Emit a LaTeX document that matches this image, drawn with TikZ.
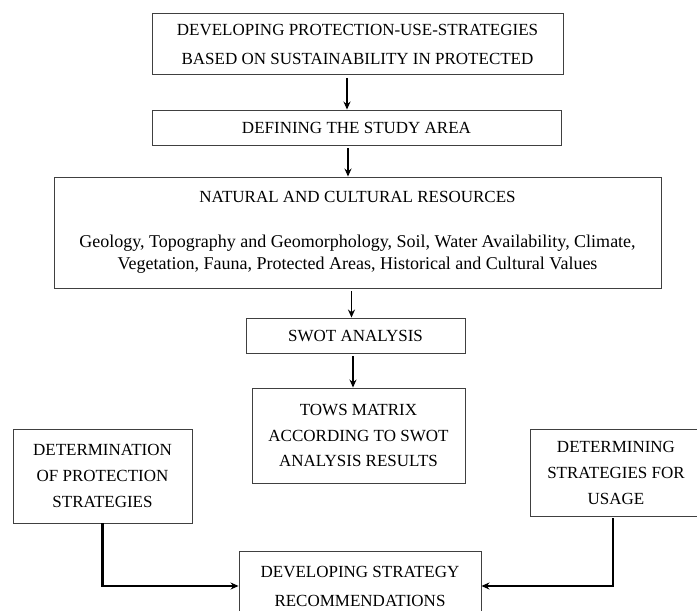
\documentclass[tikz,border=0pt]{standalone}
\usepackage{fontspec}
\setmainfont{Liberation Serif}
\usetikzlibrary{arrows.meta}

\tikzset{
  box/.style={draw=black!75, line width=0.9pt, align=center, inner sep=0pt},
  flow/.style={-{Stealth[length=8pt,width=7pt]}, line width=1.5pt, shorten <=3pt},
  link/.style={-{Stealth[length=8pt,width=7pt]}, line width=2.4pt},
}

\begin{document}
\begin{tikzpicture}[x=1pt,y=-1pt]
		\useasboundingbox (0,0) rectangle (697,611);
		\clip (0,0) rectangle (697,611);
		% main column
		\node[box, minimum width=411pt, minimum height=61pt, font=\fontsize{17}{29}\selectfont] (goal) at (357.5,44)
		{DEVELOPING PROTECTION-USE-STRATEGIES\\BASED ON SUSTAINABILITY IN PROTECTED};
		\node[box, minimum width=409pt, minimum height=35pt, font=\fontsize{17}{18}\selectfont] (area) at (356.5,127.5)
		{DEFINING THE STUDY AREA};
		\node[box, minimum width=607pt, minimum height=111pt, font=\fontsize{17}{22}\selectfont] (res) at (357.5,232.5)
		{NATURAL AND CULTURAL RESOURCES\\[23pt]
		\fontsize{18}{22}\selectfont
		Geology, Topography and Geomorphology, Soil, Water Availability, Climate,\\
		\fontsize{18}{22}\selectfont
		Vegetation, Fauna, Protected Areas, Historical and Cultural Values};
		\node[box, minimum width=219pt, minimum height=35pt, font=\fontsize{17}{18}\selectfont] (swot) at (355.5,335.5)
		{SWOT ANALYSIS};
		\node[box, minimum width=213pt, minimum height=95pt, font=\fontsize{17}{25.5}\selectfont] (tows) at (358.5,435.5)
		{TOWS MATRIX\\ACCORDING TO SWOT\\ANALYSIS RESULTS};
		% side branches
		\node[box, minimum width=179pt, minimum height=94pt, font=\fontsize{17}{26}\selectfont] (protect) at (102.5,476)
		{DETERMINATION\\OF PROTECTION\\STRATEGIES};
		\node[box, minimum width=172pt, minimum height=87pt, font=\fontsize{17}{26}\selectfont] (usage) at (616,472.5)
		{DETERMINING\\STRATEGIES FOR\\USAGE};
		\node[box, minimum width=242pt, minimum height=70pt, font=\fontsize{17}{29}\selectfont] (recommend) at (360,586)
		{DEVELOPING STRATEGY\\RECOMMENDATIONS};

		\draw[flow] ([xshift=-10.5pt]goal.south) -- ([xshift=-9.5pt]area.north);
		\draw[flow] ([xshift=-8.5pt]area.south) -- ([xshift=-9.5pt]res.north);
		\draw[flow] ([xshift=-6pt]res.south) -- ([xshift=-4pt]swot.north);
		\draw[flow] ([xshift=-2.5pt]swot.south) -- ([xshift=-5.5pt]tows.north);
		\draw[link] (protect.south) |- (recommend.west);
		\draw[link] ([xshift=-3pt,yshift=-2pt]usage.south) |- (recommend.east);
	\end{tikzpicture}
\end{document}
